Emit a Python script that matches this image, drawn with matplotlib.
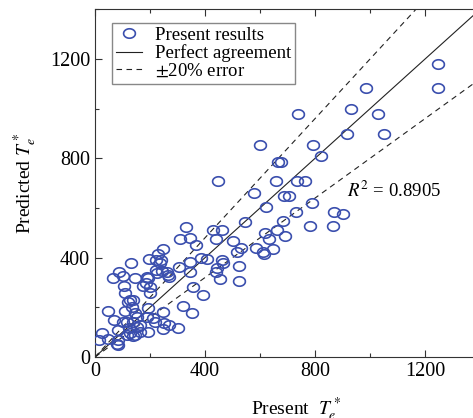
import numpy as np
import matplotlib
matplotlib.use("Agg")
import matplotlib.pyplot as plt
from matplotlib.path import Path

plt.rcParams['font.family'] = ['Liberation Serif', 'DejaVu Serif']
plt.rcParams['mathtext.fontset'] = 'stix'

# Present T_e* (x) vs predicted T_e* (y)
present = [1247, 1247, 985, 931, 1029, 738, 916, 1051, 793, 822,
           600, 665, 676, 447, 658, 734, 764, 578, 687, 705,
           622, 789, 731, 869, 902, 684, 782, 865, 618, 662,
           633, 691, 585, 611, 614, 647, 545, 429, 462, 440,
           502, 345, 367, 531, 516, 385, 407, 462, 465, 345,
           524, 444, 345, 440, 455, 524, 356, 393, 353, 331,
           309, 247, 229, 196, 222, 131, 305, 320, 65, 87,
           102, 105, 109, 145, 189, 193, 185, 175, 200, 200,
           127, 138, 120, 135, 240, 236, 222, 262, 265, 225,
           244, 269, 47, 109, 69, 145, 153, 138, 102, 116,
           193, 189, 211, 218, 247, 251, 269, 247, 302, 164,
           193, 164, 153, 124, 127, 138, 116, 84, 25, 15,
           47, 84, 80, 84, 145]
predicted = [1180, 1083, 1083, 999, 979, 979, 898, 898, 854, 809,
             854, 785, 785, 709, 709, 709, 709, 660, 648, 648,
             604, 620, 584, 584, 576, 548, 528, 528, 499, 511,
             475, 487, 439, 423, 415, 435, 544, 511, 511, 475,
             467, 479, 451, 439, 423, 398, 395, 391, 379, 383,
             366, 358, 342, 342, 314, 306, 282, 250, 177, 524,
             475, 435, 415, 395, 391, 379, 362, 205, 318, 342,
             326, 286, 258, 318, 322, 318, 298, 286, 282, 258,
             230, 230, 221, 201, 391, 379, 350, 342, 330, 338,
             346, 322, 185, 185, 149, 177, 161, 141, 141, 141,
             197, 161, 157, 141, 181, 137, 129, 113, 117, 129,
             101, 101, 121, 117, 97, 85, 89, 109, 97, 68,
             72, 68, 52, 48, 89]

ref_x = [0, 1400]
err = 0.2
r2_label = "$R^2$ = 0.8905"

fig = plt.figure(figsize=(4.73, 4.18), dpi=100)
ax = fig.add_axes([95/473, 61/418, 385/473, 347.6/418])

# ellipse-ish open marker
t = np.linspace(0, 2*np.pi, 41)
ell = Path(np.column_stack([np.cos(t), 0.8*np.sin(t)]))

ax.plot(present, predicted, linestyle='none', marker=ell, markersize=8.5,
        markerfacecolor='none', markeredgecolor='#3b4fae', markeredgewidth=1.2,
        label='Present results', zorder=3)
rx = np.array(ref_x, dtype=float)
ax.plot(rx, rx, color='#222222', lw=0.8, label='Perfect agreement', zorder=2)
ax.plot(rx, rx*(1+err), color='#222222', lw=0.8, dashes=(5, 4),
        label='$\\pm$20% error', zorder=2)
ax.plot(rx, rx*(1-err), color='#222222', lw=0.8, dashes=(5, 4), zorder=2)

ax.set_xlim(0, 1400)
ax.set_ylim(0, 1400)
ax.set_xticks([0, 400, 800, 1200])
ax.set_yticks([0, 400, 800, 1200])
ax.set_xticks(np.arange(0, 1401, 200), minor=True)
ax.set_yticks(np.arange(0, 1401, 200), minor=True)
ax.tick_params(which='both', direction='in', top=True, right=True,
               labelsize=14.5, width=0.8, color='#333333')
ax.tick_params(which='major', length=5)
ax.tick_params(which='minor', length=3)
for s in ax.spines.values():
    s.set_linewidth(0.8)
    s.set_color('#333333')

ax.set_xlabel('Present  $T_e^*$', fontsize=14)
ax.xaxis.set_label_coords(0.522, -0.112)
ax.set_ylabel('Predicted $T_e^*$', fontsize=14, labelpad=8)

ax.text(916, 668, r2_label, fontsize=13.5, va='center', ha='left')

leg = ax.legend(loc='upper left', bbox_to_anchor=(0.044, 0.961), borderaxespad=0,
                fontsize=13.5, frameon=True, fancybox=False, framealpha=1,
                edgecolor='#888888', handlelength=1.4, handletextpad=0.7,
                labelspacing=0.02, borderpad=0.2)
leg.get_frame().set_linewidth(1.0)

fig.savefig('out.png', dpi=100)
